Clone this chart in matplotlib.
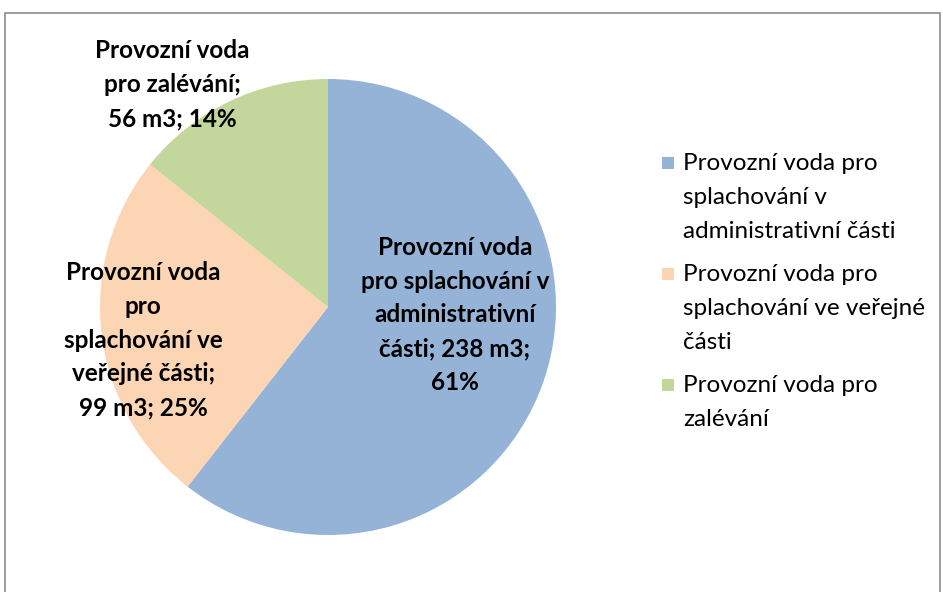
import matplotlib
matplotlib.use("Agg")
import matplotlib.pyplot as plt
from matplotlib.patches import Rectangle

plt.rcParams['font.family'] = ['Lato', 'DejaVu Sans']

categories = [
    "Provozní voda pro splachování v administrativní části",
    "Provozní voda pro splachování ve veřejné části",
    "Provozní voda pro zalévání",
]
values = [238, 99, 56]
colors = ["#95B3D7", "#FCD5B5", "#C3D69B"]
legend_labels = [
    "Provozní voda pro\nsplachování v\nadministrativní části",
    "Provozní voda pro\nsplachování ve veřejné\nčásti",
    "Provozní voda pro\nzalévání",
]
label_wraps = [
    "Provozní voda\npro splachování v\nadministrativní\nčásti; {v} m3;\n{p}%",
    "Provozní voda\npro\nsplachování ve\nveřejné části;\n{v} m3; {p}%",
    "Provozní voda\npro zalévání;\n{v} m3; {p}%",
]
label_pos = [(0.557, -0.035), (-0.81, -0.145), (-0.684, 0.975)]

W, H = 943, 592
fig = plt.figure(figsize=(W / 100, H / 100), dpi=100)

# border
fig.patches.append(Rectangle((5 / W, -0.1), (940 - 5) / W, (H - 13) / H + 0.1,
                             transform=fig.transFigure, fill=False,
                             edgecolor="#8c8c8c", linewidth=1.2))

cx, cy, r = 328, 307, 228
ax = fig.add_axes([(cx - r) / W, (H - cy - r) / H, 2 * r / W, 2 * r / H])
ax.pie(values, colors=colors, startangle=90, counterclock=False,
       wedgeprops=dict(linewidth=0))
ax.set_xlim(-1, 1)
ax.set_ylim(-1, 1)
ax.set_aspect("equal")
ax.axis("off")

total = sum(values)
for tmpl, v, (x, y) in zip(label_wraps, values, label_pos):
    p = round(100 * v / total)
    ax.text(x, y, tmpl.format(v=v, p=p), ha="center", va="center",
            fontsize=17.5, fontweight="bold", linespacing=1.57, color="black")

# legend
lx, ly0 = 662, 163
line_h = 33
gap = 12
y = ly0
for lab, col in zip(legend_labels, colors):
    nlines = lab.count("\n") + 1
    fig.patches.append(Rectangle((lx / W, 1 - (y + 6) / H), 12 / W, 12 / H,
                                 transform=fig.transFigure, facecolor=col,
                                 edgecolor="none"))
    fig.text(683 / W, 1 - (y - 10) / H, lab, ha="left", va="top",
             fontsize=17.5, linespacing=1.76, color="black")
    y += nlines * line_h + gap

fig.savefig("out.png", dpi=100)
